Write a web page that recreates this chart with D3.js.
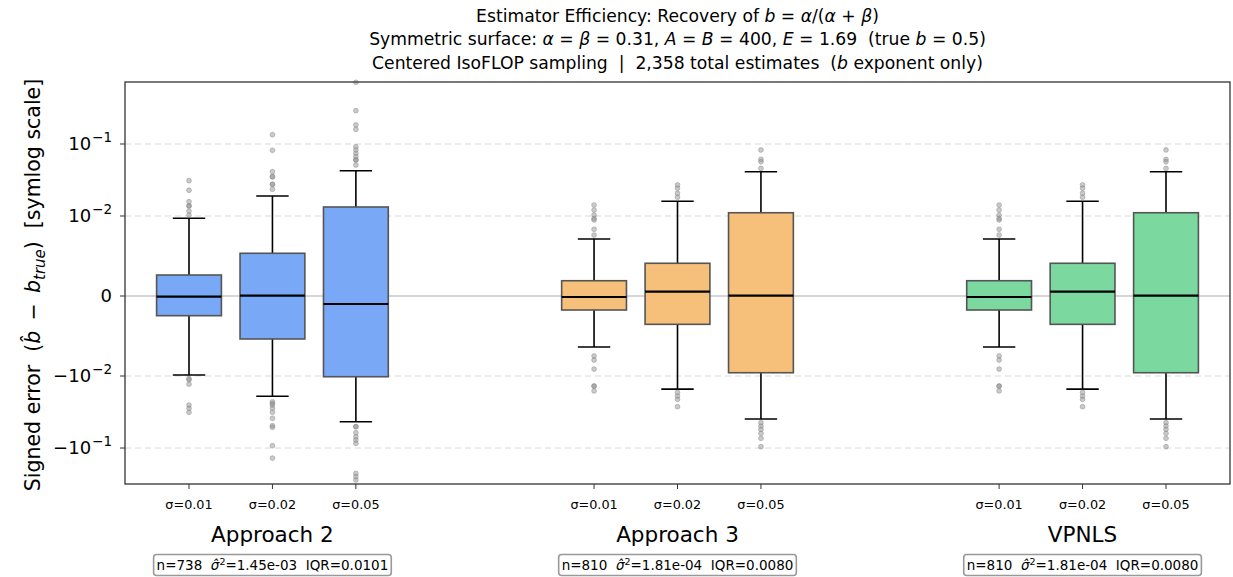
<!DOCTYPE html>
<html>
<head>
<meta charset="utf-8">
<script src="https://cdn.jsdelivr.net/npm/d3@7"></script>
<style>
  body { margin: 0; background: #fff; }
  svg { font-family: "DejaVu Sans", sans-serif; }
  text { white-space: pre; }
</style>
</head>
<body>
<svg id="chart" width="1233" height="577"></svg>
<script>
// ---------------- data ----------------
const groups = ["Approach 2", "Approach 3", "VPNLS"];
const sigmaLabels = ["σ=0.01", "σ=0.02", "σ=0.05"];
const groupColors = ["#78a8f6", "#f6bf7a", "#7bd89f"];
const statsN = ["738", "810", "810"];
const statsVar = ["1.45e-03", "1.81e-04", "1.81e-04"];
const statsIQR = ["0.0101", "0.0080", "0.0080"];
const yTickValues = [-0.1, -0.01, 0, 0.01, 0.1];
const yLimits = [-0.316, 0.726];

// box stats per sigma: [lowerWhisker, Q1, median, Q3, upperWhisker]
const approach2Boxes = [
  [-0.00988, -0.00246, -0.0000875, 0.002625, 0.00971],
  [-0.0191, -0.00537, 0.00004, 0.00534, 0.0190],
  [-0.0431, -0.01023, -0.0010, 0.01334, 0.0425]
];
const approach3Boxes = [
  [-0.00638, -0.00175, -0.000125, 0.00191, 0.00713],
  [-0.0152, -0.00354, 0.000537, 0.00409, 0.0160],
  [-0.0395, -0.00959, 0.00004, 0.0111, 0.0412]
];
const vpnlsBoxes = [
  [-0.00638, -0.00175, -0.000125, 0.00191, 0.00713],
  [-0.0152, -0.00354, 0.000537, 0.00409, 0.0160],
  [-0.0395, -0.00959, 0.00004, 0.0111, 0.0412]
];
const approach2Outliers = [
  [0.0309, 0.0228, 0.0158, 0.0138, 0.0138, 0.0117, 0.0103, -0.0109, -0.0113, -0.0130, -0.0253, -0.0281, -0.0319],
  [0.1345, 0.0818, 0.0412, 0.0351, 0.0351, 0.0275, 0.0275, 0.0235, -0.0228, -0.0240, -0.0253, -0.0281, -0.0319, -0.0387, -0.0490, -0.0515, -0.0929, -0.138],
  [0.719, 0.290, 0.184, 0.160, 0.0918, 0.0826, 0.0743, 0.0667, 0.0600, 0.0600, 0.0510, -0.0506, -0.0506, -0.0613, -0.0697, -0.0774, -0.0860, -0.225, -0.250, -0.278]
];
const approach3Outliers = [
  [0.0142, 0.0121, 0.0103, 0.0097, 0.0095, 0.00834, 0.00762, -0.0075, -0.0080, -0.00913, -0.0138, -0.0138, -0.0161],
  [0.0270, 0.0243, 0.0207, 0.0182, -0.0169, -0.0190, -0.0211, -0.0267],
  [0.0826, 0.0612, 0.0567, 0.0459, -0.0445, -0.0495, -0.0550, -0.0625, -0.0733, -0.0960]
];
const vpnlsOutliers = [
  [0.0142, 0.0121, 0.0103, 0.0097, 0.0095, 0.00834, 0.00762, -0.0075, -0.0080, -0.00913, -0.0138, -0.0138, -0.0161],
  [0.0270, 0.0243, 0.0207, 0.0182, -0.0169, -0.0190, -0.0211, -0.0267],
  [0.0826, 0.0612, 0.0567, 0.0459, -0.0445, -0.0495, -0.0550, -0.0625, -0.0733, -0.0960]
];
const allBoxes = [approach2Boxes, approach3Boxes, vpnlsBoxes];
const allOutliers = [approach2Outliers, approach3Outliers, vpnlsOutliers];

// ---------------- layout ----------------
const svg = d3.select("#chart");
const plot = { left: 125, right: 1230, top: 82, bottom: 484 };
const offsets = [-0.206, 0, 0.206];
const boxW = 0.16;

// matplotlib-style symlog transform (linthresh 0.01, linscale 1, base 10)
const linthresh = 0.01, linscaleAdj = 1 / (1 - 1 / 10);
function symlog(v) {
  const a = Math.abs(v) / linthresh;
  if (a <= 1) return Math.sign(v) * a * linscaleAdj;
  return Math.sign(v) * (linscaleAdj + Math.log10(a));
}
const yT = d3.scaleLinear().domain(yLimits.map(symlog)).range([plot.bottom, plot.top]);
const y = v => yT(symlog(v));
const x = d3.scaleLinear().domain([-0.364, 2.364]).range([plot.left, plot.right]);

// grid
const grid = svg.append("g");
yTickValues.filter(v => v !== 0).forEach(v => {
  grid.append("line").attr("x1", plot.left).attr("x2", plot.right)
    .attr("y1", y(v)).attr("y2", y(v))
    .attr("stroke", "#d9d9d9").attr("stroke-width", 1).attr("stroke-dasharray", "6,4");
});
// zero line
svg.append("line").attr("x1", plot.left).attr("x2", plot.right)
  .attr("y1", y(0)).attr("y2", y(0))
  .attr("stroke", "#9a9a9a").attr("stroke-width", 1.2).attr("stroke-opacity", 0.8);

// boxes
const marks = svg.append("g");
allBoxes.forEach((boxes, g) => {
  boxes.forEach((b, i) => {
    const cx = x(g + offsets[i]);
    const hw = (x(boxW) - x(0)) / 2;
    const [lo, q1, med, q3, hi] = b;
    marks.append("line").attr("x1", cx).attr("x2", cx).attr("y1", y(q3)).attr("y2", y(hi))
      .attr("stroke", "#000").attr("stroke-width", 1.6);
    marks.append("line").attr("x1", cx).attr("x2", cx).attr("y1", y(q1)).attr("y2", y(lo))
      .attr("stroke", "#000").attr("stroke-width", 1.6);
    [lo, hi].forEach(v => {
      marks.append("line").attr("x1", cx - hw / 2).attr("x2", cx + hw / 2)
        .attr("y1", y(v)).attr("y2", y(v)).attr("stroke", "#000").attr("stroke-width", 1.6);
    });
    marks.append("rect").attr("x", cx - hw).attr("width", 2 * hw)
      .attr("y", y(q3)).attr("height", y(q1) - y(q3))
      .attr("fill", groupColors[g]).attr("stroke", "#555").attr("stroke-width", 1.6);
    marks.append("line").attr("x1", cx - hw).attr("x2", cx + hw)
      .attr("y1", y(med)).attr("y2", y(med)).attr("stroke", "#000").attr("stroke-width", 2.2);
    allOutliers[g][i].forEach(v => {
      marks.append("circle").attr("cx", cx).attr("cy", y(v)).attr("r", 2.4)
        .attr("fill", "#8a8a8a").attr("fill-opacity", 0.45)
        .attr("stroke", "#8a8a8a").attr("stroke-opacity", 0.6).attr("stroke-width", 0.8);
    });
  });
});

// frame
svg.append("rect").attr("x", plot.left).attr("y", plot.top)
  .attr("width", plot.right - plot.left).attr("height", plot.bottom - plot.top)
  .attr("fill", "none").attr("stroke", "#333").attr("stroke-width", 1.3);

// y ticks
yTickValues.forEach(v => {
  const yy = y(v);
  svg.append("line").attr("x1", plot.left - 5).attr("x2", plot.left).attr("y1", yy).attr("y2", yy)
    .attr("stroke", "#333").attr("stroke-width", 1);
  const t = svg.append("text").attr("x", plot.left - 13).attr("y", yy + 6)
    .attr("text-anchor", "end").attr("font-size", 18).attr("fill", "#000");
  if (v === 0) { t.text("0"); return; }
  const exp = Math.round(Math.log10(Math.abs(v)));
  t.append("tspan").text((v < 0 ? "\u2212" : "") + "10");
  t.append("tspan").attr("font-size", 13.5).attr("dy", -8).attr("dx", 1).text("\u2212" + Math.abs(exp));
});

// x ticks + sigma labels
groups.forEach((gName, g) => {
  offsets.forEach((o, i) => {
    const cx = x(g + o);
    svg.append("line").attr("x1", cx).attr("x2", cx).attr("y1", plot.bottom).attr("y2", plot.bottom + 5)
      .attr("stroke", "#333").attr("stroke-width", 1);
    svg.append("text").attr("x", cx).attr("y", 508.5).attr("text-anchor", "middle")
      .attr("font-size", 12.8).text(sigmaLabels[i]);
  });
  const gx = x(g);
  svg.append("text").attr("x", gx).attr("y", 542).attr("text-anchor", "middle")
    .attr("font-size", 21.5).text(gName);
  const st = svg.append("text").attr("x", gx).attr("y", 570).attr("text-anchor", "middle")
    .attr("font-size", 13.5);
  st.append("tspan").text("n=" + statsN[g] + "  ");
  st.append("tspan").attr("font-style", "italic").text("σ\u0302");
  st.append("tspan").attr("font-size", 9.5).attr("dy", -5).text("2");
  st.append("tspan").attr("dy", 5).text("=" + statsVar[g] + "  IQR=" + statsIQR[g]);
  const bb = st.node().getBBox();
  svg.insert("rect", "text").attr("x", bb.x - 3).attr("y", 554.5).attr("width", bb.width + 6).attr("height", 21)
    .attr("rx", 3).attr("fill", "#fff").attr("stroke", "#999").attr("stroke-width", 1.6);
});

// title
const tx = (plot.left + plot.right) / 2;
function addLine(yy, parts) {
  const t = svg.append("text").attr("x", tx).attr("y", yy).attr("text-anchor", "middle").attr("font-size", 17.2);
  parts.forEach(p => {
    const s = t.append("tspan").text(p[0]);
    if (p[1]) s.attr("font-style", "italic");
  });
}
addLine(21.5, [["Estimator Efficiency: Recovery of "], ["b", 1], [" = "], ["α", 1], ["/("], ["α", 1], [" + "], ["β", 1], [")"]]);
addLine(45, [["Symmetric surface: "], ["α", 1], [" = "], ["β", 1], [" = 0.31, "], ["A", 1], [" = "], ["B", 1], [" = 400, "], ["E", 1], [" = 1.69  (true "], ["b", 1], [" = 0.5)"]]);
addLine(68.5, [["Centered IsoFLOP sampling  |  2,358 total estimates  ("], ["b", 1], [" exponent only)"]]);

// y label
const yl = svg.append("text").attr("transform", `translate(40,${(plot.top + plot.bottom) / 2 + 2}) rotate(-90)`)
  .attr("text-anchor", "middle").attr("font-size", 20.5);
yl.append("tspan").text("Signed error  (");
yl.append("tspan").attr("font-style", "italic").text("b\u0302");
yl.append("tspan").text("\u2002\u2212\u2002");
yl.append("tspan").attr("font-style", "italic").text("b");
yl.append("tspan").attr("font-style", "italic").attr("font-size", 15).attr("dy", 5).text("true");
yl.append("tspan").attr("dy", -5).text(")  [symlog scale]");
</script>
</body>
</html>
